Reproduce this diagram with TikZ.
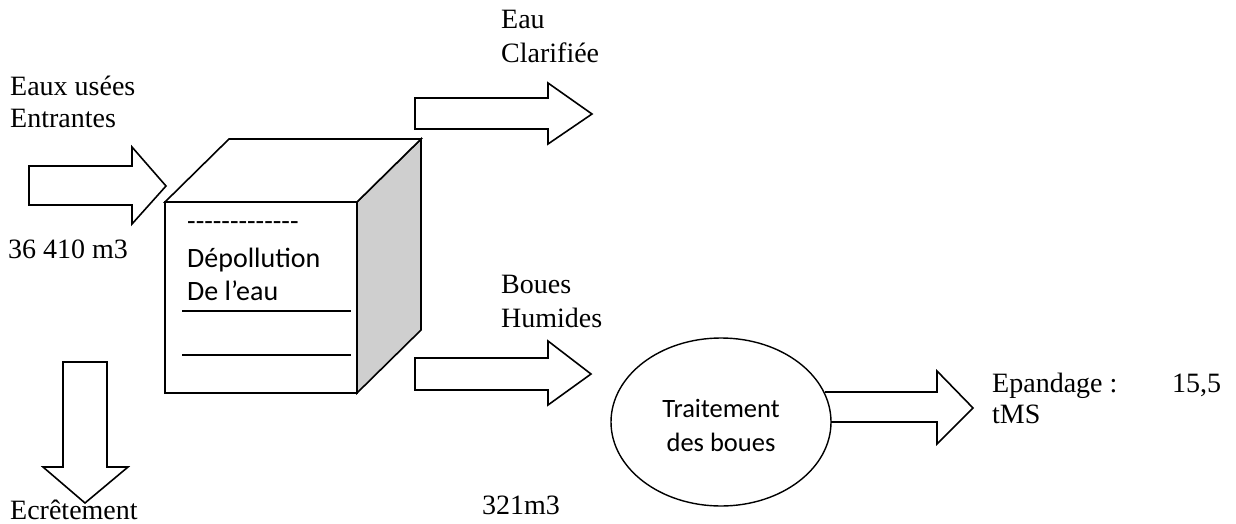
\documentclass[tikz,border=0pt]{standalone}
\usepackage{fontspec}
\setmainfont{Liberation Serif}
\newfontfamily\calfont{Carlito}
\usetikzlibrary{shapes.geometric}
\newcommand{\hy}{\mbox{-}}
\begin{document}
\begin{tikzpicture}[x=1pt,y=-1pt,line join=miter,
  blk/.style={draw=black,line width=1.6pt,fill=white},
  sep/.style={draw=black,line width=1.6pt},
  lbl/.style={anchor=base west,inner sep=0pt,font=\fontsize{28}{34}\selectfont},
  sansl/.style={anchor=base west,inner sep=0pt,font=\calfont\fontsize{28}{34}\selectfont},
  sansc/.style={anchor=base,inner sep=0pt,font=\calfont\fontsize{26.5}{32}\selectfont}]
\useasboundingbox (0,0) rectangle (1236,524);

% cube
\draw[blk,fill=black!19] (357,202) -- (421,139) -- (421,330) -- (357,393) -- cycle;
\draw[blk] (165,202) -- (229,139) -- (421,139) -- (357,202) -- cycle;
\draw[blk] (165,202) rectangle (357,393);
\coordinate (s1a) at (182,311); \coordinate (s1b) at (351,311);
\coordinate (s2a) at (182,355); \coordinate (s2b) at (351,355);
\draw[sep] (s1a) -- (s1b);
\draw[sep] (s2a) -- (s2b);
\node[sansl] (dash) at (187,230) {\hy\hy\hy\hy\hy\hy\hy\hy\hy\hy\hy\hy\hy};
\node[sansl] (dep) at (187,267) {Dépollution};
\node[sansl] (deleau) at (187,300) {De l’eau};

% input arrow
\draw[blk] (29,166) -- (132,166) -- (132,147) -- (166,186) -- (132,224) -- (132,205) -- (29,205) -- cycle;
% top arrow
\draw[blk] (415,98) -- (548,98) -- (548,83) -- (592,114) -- (548,144) -- (548,129) -- (415,129) -- cycle;
% middle arrow
\draw[blk] (415,358) -- (548,358) -- (548,341) -- (591,374) -- (548,405) -- (548,390) -- (415,390) -- cycle;
% down arrow
\draw[blk] (63,362) -- (107,362) -- (107,467) -- (128,467) -- (85,503) -- (43,467) -- (63,467) -- cycle;

% ellipse
\node[draw=black,line width=1.4pt,ellipse,minimum width=220pt,minimum height=168pt,inner sep=0pt] (trait) at (721,422) {};
\node[sansc] (t1) at (721,417) {Traitement};
\node[sansc] (t2) at (721,451) {des boues};

% right arrow
\draw[line width=1.6pt] (825,392) -- (937,392) -- (937,371) -- (973,408) -- (937,444) -- (937,422) -- (831,422);

% labels
\node[lbl] (eau) at (501,29) {Eau};
\node[lbl] (clar) at (501,63) {Clarifiée};
\node[lbl] (eaux) at (10,96) {Eaux usées};
\node[lbl] (entr) at (10,128) {Entrantes};
\node[lbl] (vol) at (8,258) {36 410 m3};
\node[lbl] (boues) at (501,293) {Boues};
\node[lbl] (hum) at (501,327) {Humides};
\node[lbl] (epa) at (992,392) {Epandage :};
\node[lbl] (val) at (1172,392) {15,5};
\node[lbl] (tms) at (992,423) {tMS};
\node[lbl] (ecr) at (10,519) {Ecrêtement};
\node[lbl] (m3) at (482,514) {321m3};
\end{tikzpicture}
\end{document}
